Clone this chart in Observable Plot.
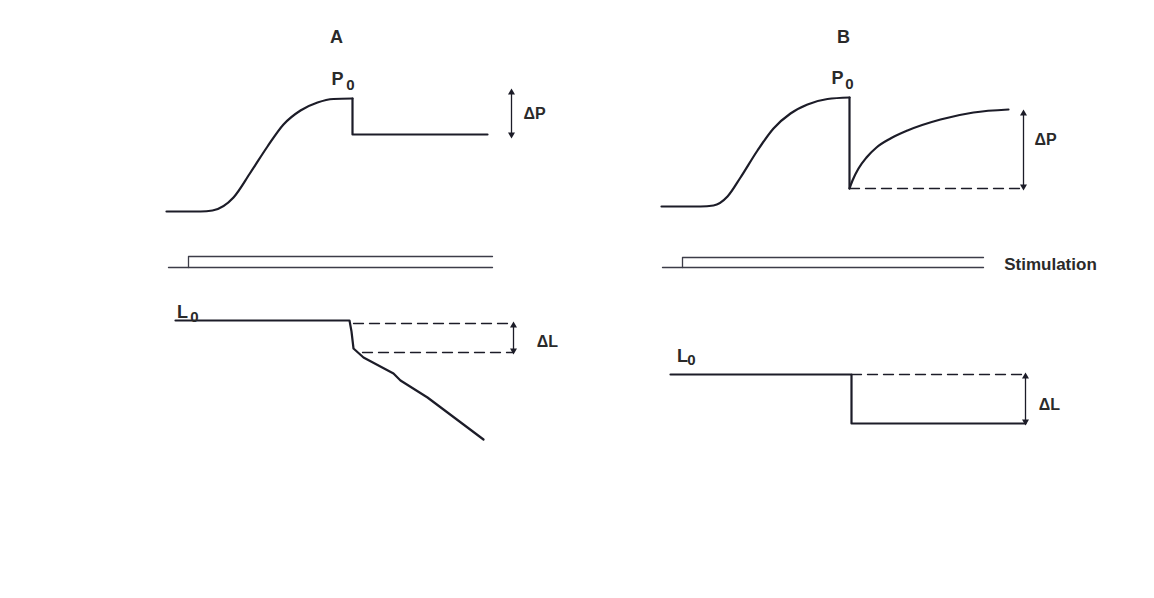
<!DOCTYPE html>
<html>
<head>
<meta charset="utf-8">
<script src="https://cdn.jsdelivr.net/npm/d3@7"></script>
<script src="https://cdn.jsdelivr.net/npm/@observablehq/plot@0.6"></script>
<style>
  html, body { margin: 0; padding: 0; background: #ffffff; }
  #chart svg { display: block; }
</style>
</head>
<body>
<div id="chart"></div>
<script>
// Diagram traces, in diagram units (x: time axis across the figure, y: downward level)
const forceRiseA = [[166,211],[200,211],[212,210],[233,197],[250,172],[267,146],[283,124],[300,110],[317,102],[333,98.5],[352,98]];
const forceAfterA = [[352,98],[352,134],[487,134]];
const forceRiseB = [[661,206],[700,206],[713,205],[727,196],[740,177],[757,150],[773,128],[790,113],[807,104],[827,98.5],[849,97]];
const forceDropB = [[849,97],[849,188]];
const forceRecoveryB = [[849,188],[852,180],[858,168],[866,157],[876,147],[890,138],[907,130],[940,119],[973,112],[1008,109]];
const forceDashB = [[849,188],[1023,188]];

const stimLowerA = [[168,267],[492,267]];
const stimUpperA = [[188,267],[188,256],[492,256]];
const stimLowerB = [[662,267],[983,267]];
const stimUpperB = [[682,267],[682,257],[983,257]];

const lengthA = [[175,320],[349,320],[351,331],[353,348],[363,357],[393,373],[400,380],[427,397],[483,439]];
const lengthDashA1 = [[353,323],[513,323]];
const lengthDashA2 = [[362,352],[513,352]];
const lengthB = [[670,374],[851,374],[851,423],[1025,423]];
const lengthDashB = [[851,374],[1025,374]];

// Double-headed delta arrows: [x, yTop, yBottom]
const deltaArrows = [[511,90,136],[1023,111,188],[513,323,352],[1025,374,423]];

// Labels: [text, x, y]
const panelLabels = [["A",336,37],["B",843,37]];
const mainLabels = [["P",337,79],["P",837,78],["L",182,312],["L",682,356]];
const subLabels = [["0",350,85],["0",849,84],["0",194,317],["0",691,360]];
const deltaLabels = [["ΔP",534,113],["ΔP",1045,139],["ΔL",547,341],["ΔL",1049,404]];
const sideLabels = [["Stimulation",1050,264]];

const pts = a => a.map(([x, y]) => ({x, y}));
const lbl = a => a.map(([t, x, y]) => ({t, x, y}));
const ink = "#1c1c28";
const font = "'Liberation Sans', Arial, Helvetica, sans-serif";

const arrowTops = deltaArrows.map(([x, y1]) => ({x, y: y1 + 2}));
const arrowBottoms = deltaArrows.map(([x, , y2]) => ({x, y: y2 - 2}));

const chart = Plot.plot({
  width: 1154,
  height: 598,
  margin: 0,
  style: {background: "#ffffff", fontFamily: font},
  x: {domain: [0, 1154], range: [0, 1154], axis: null},
  y: {domain: [0, 598], range: [0, 598], axis: null},
  marks: [
    // force traces
    Plot.line(pts(forceRiseA), {x: "x", y: "y", curve: "monotone-x", stroke: ink, strokeWidth: 2.2}),
    Plot.line(pts(forceAfterA), {x: "x", y: "y", stroke: ink, strokeWidth: 2.2}),
    Plot.line(pts(forceRiseB), {x: "x", y: "y", curve: "monotone-x", stroke: ink, strokeWidth: 2.2}),
    Plot.line(pts(forceDropB), {x: "x", y: "y", stroke: ink, strokeWidth: 2.2}),
    Plot.line(pts(forceRecoveryB), {x: "x", y: "y", curve: "monotone-x", stroke: ink, strokeWidth: 2.2}),
    Plot.line(pts(forceDashB), {x: "x", y: "y", stroke: ink, strokeWidth: 1.3, strokeDasharray: "10,6"}),
    // stimulation
    Plot.line(pts(stimLowerA), {x: "x", y: "y", stroke: "#3c3c48", strokeWidth: 1.3}),
    Plot.line(pts(stimUpperA), {x: "x", y: "y", stroke: "#3c3c48", strokeWidth: 1.3}),
    Plot.line(pts(stimLowerB), {x: "x", y: "y", stroke: "#3c3c48", strokeWidth: 1.3}),
    Plot.line(pts(stimUpperB), {x: "x", y: "y", stroke: "#3c3c48", strokeWidth: 1.3}),
    // length traces
    Plot.line(pts(lengthA), {x: "x", y: "y", stroke: ink, strokeWidth: 2.2}),
    Plot.line(pts(lengthDashA1), {x: "x", y: "y", stroke: ink, strokeWidth: 1.3, strokeDasharray: "10,6"}),
    Plot.line(pts(lengthDashA2), {x: "x", y: "y", stroke: ink, strokeWidth: 1.3, strokeDasharray: "10,6"}),
    Plot.line(pts(lengthB), {x: "x", y: "y", stroke: ink, strokeWidth: 2.2}),
    Plot.line(pts(lengthDashB), {x: "x", y: "y", stroke: ink, strokeWidth: 1.3, strokeDasharray: "10,6"}),
    // delta arrows
    Plot.link(deltaArrows.map(([x, y1, y2]) => ({x, y1, y2})), {x1: "x", x2: "x", y1: "y1", y2: "y2", stroke: ink, strokeWidth: 1.3}),
    Plot.dot(arrowTops, {x: "x", y: "y", symbol: "triangle", r: 2.6, fill: ink, stroke: null}),
    Plot.dot(arrowBottoms, {x: "x", y: "y", symbol: "triangle", rotate: 180, r: 2.6, fill: ink, stroke: null}),
    // labels
    Plot.text(lbl(panelLabels), {x: "x", y: "y", text: "t", fontSize: 18, fontWeight: "bold", fill: "#2a2a2a"}),
    Plot.text(lbl(mainLabels), {x: "x", y: "y", text: "t", fontSize: 18, fontWeight: "bold", fill: "#2a2a2a"}),
    Plot.text(lbl(subLabels), {x: "x", y: "y", text: "t", fontSize: 15, fontWeight: "bold", fill: "#2a2a2a"}),
    Plot.text(lbl(deltaLabels), {x: "x", y: "y", text: "t", fontSize: 16, fontWeight: "bold", fill: "#2a2a2a"}),
    Plot.text(lbl(sideLabels), {x: "x", y: "y", text: "t", fontSize: 17, fontWeight: "bold", fill: "#2a2a2a"})
  ]
});
document.getElementById("chart").append(chart);
</script>
</body>
</html>
